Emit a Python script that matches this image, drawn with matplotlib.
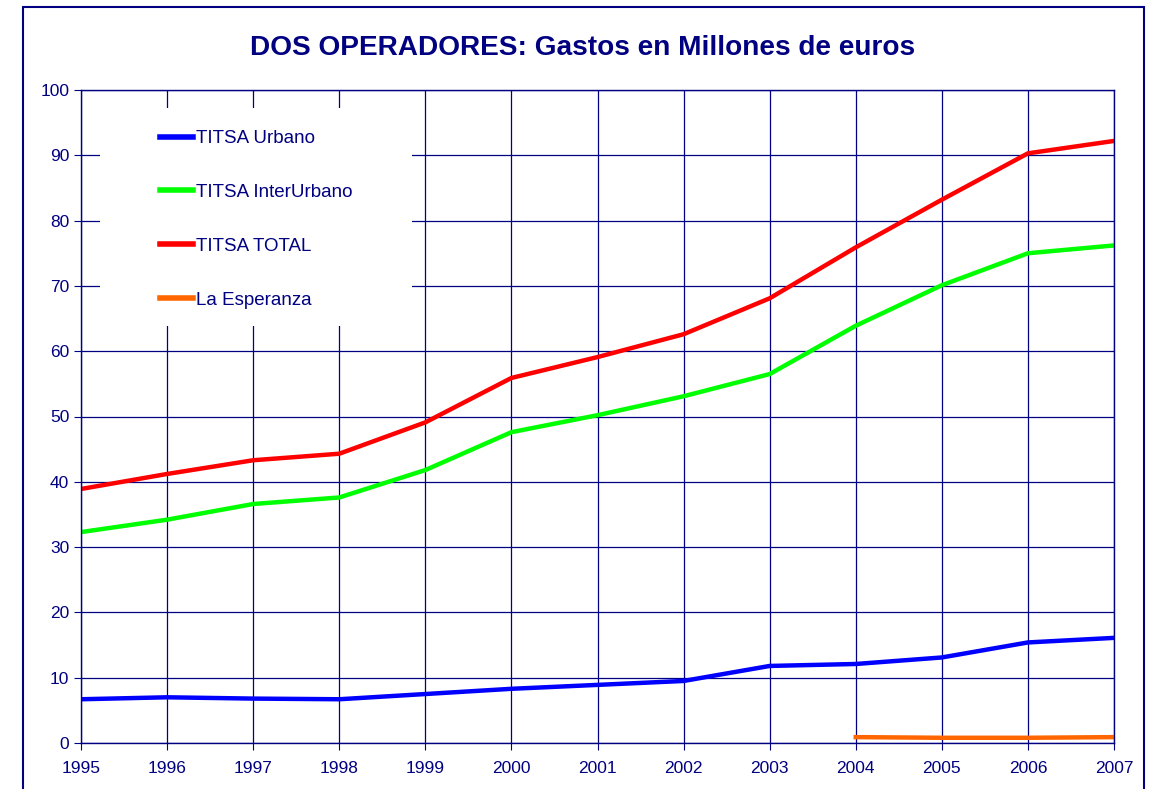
import matplotlib.pyplot as plt
from matplotlib.patches import Rectangle

years = list(range(1995, 2008))
urbano = [6.7, 7.0, 6.8, 6.7, 7.5, 8.3, 8.9, 9.5, 11.8, 12.1, 13.1, 15.4, 16.1]
interurbano = [32.3, 34.2, 36.6, 37.6, 41.8, 47.6, 50.2, 53.1, 56.5, 63.9, 70.1, 75.0, 76.2]
total = [38.9, 41.2, 43.3, 44.3, 49.1, 55.9, 59.1, 62.6, 68.1, 75.9, 83.2, 90.3, 92.2]
esperanza_years = [2004, 2005, 2006, 2007]
esperanza = [0.9, 0.8, 0.8, 0.9]

navy = '#000080'
W, H = 1161, 789

plt.rcParams['font.family'] = ['Liberation Sans', 'DejaVu Sans']
fig = plt.figure(figsize=(W / 100, H / 100), dpi=100)
ax = fig.add_axes([81 / W, (H - 743) / H, (1114 - 81) / W, (743 - 90) / H])

# outer frame of the chart
fig.patches.append(Rectangle((23 / W, -0.05), (1144 - 23) / W, (H - 7) / H + 0.05,
                             transform=fig.transFigure, fill=False,
                             edgecolor=navy, linewidth=1.5))

ax.plot(years, urbano, color='#0000FF', lw=3.2, label='TITSA Urbano')
ax.plot(years, interurbano, color='#00FF00', lw=3.2, label='TITSA InterUrbano')
ax.plot(years, total, color='#FF0000', lw=3.2, label='TITSA TOTAL')
ax.plot(esperanza_years, esperanza, color='#FF6600', lw=3.2, label='La Esperanza')

ax.set_xlim(1995, 2007)
ax.set_ylim(0, 100)
ax.set_xticks(years)
ax.set_yticks(range(0, 101, 10))
ax.grid(True, color=navy, linewidth=0.9)
ax.set_axisbelow(True)
for s in ax.spines.values():
    s.set_color(navy)
    s.set_linewidth(1.0)
ax.tick_params(colors=navy, labelcolor=navy, labelsize=12.5, length=5, direction='out')
ax.tick_params(axis='x', pad=8)

# white legend area that hides the grid
ax.add_patch(Rectangle((100 / W, (H - 326) / H), (412 - 100) / W, (326 - 108) / H,
                       transform=fig.transFigure, facecolor='white',
                       edgecolor='none', zorder=1.5))

leg = ax.legend(loc='upper left', bbox_to_anchor=(160 / W, (H - 130) / H),
                bbox_transform=fig.transFigure, frameon=False,
                fontsize=13.5, labelspacing=1.96, handlelength=1.76, handletextpad=0.16,
                borderpad=0, borderaxespad=0)
for t in leg.get_texts():
    t.set_color(navy)
for l in leg.get_lines():
    l.set_linewidth(4)

fig.text(583 / W, (H - 48) / H, 'DOS OPERADORES: Gastos en Millones de euros',
         ha='center', va='center', fontsize=20.2, fontweight='bold', color=navy)

fig.savefig('out.png', dpi=100)
